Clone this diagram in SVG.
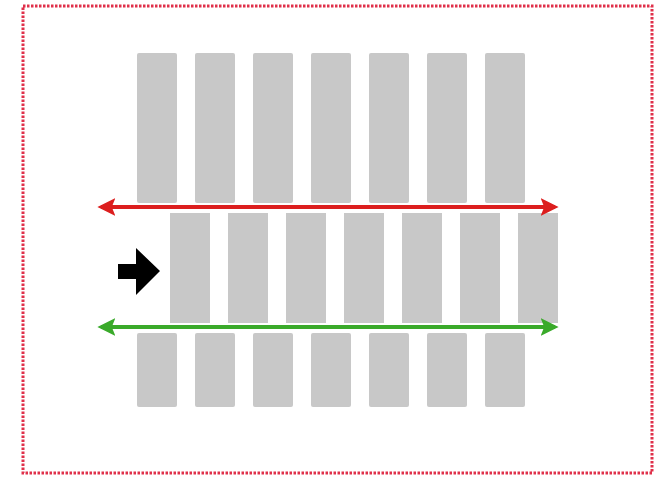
<svg xmlns="http://www.w3.org/2000/svg" width="659" height="480" viewBox="0 0 659 480">
<style>
.bar{fill:#c8c8c8}
.frame{fill:none;stroke:#e0304a;stroke-width:3;stroke-dasharray:2.5 1.5}
.red{stroke:#dc1e1e;stroke-width:4;fill:none}
.green{stroke:#3aaa2a;stroke-width:4;fill:none}
</style>
<defs>
<marker id="mr" viewBox="0 0 10 10" refX="8" refY="5" markerWidth="4.5" markerHeight="4.5" orient="auto-start-reverse" markerUnits="strokeWidth"><path d="M0,0 L10,5 L0,10 L2,5 Z" fill="#dc1e1e"/></marker>
<marker id="mg" viewBox="0 0 10 10" refX="8" refY="5" markerWidth="4.5" markerHeight="4.5" orient="auto-start-reverse" markerUnits="strokeWidth"><path d="M0,0 L10,5 L0,10 L2,5 Z" fill="#3aaa2a"/></marker>
</defs>
<rect width="659" height="480" fill="#fff"/>
<rect id="frame" class="frame" x="23" y="6" width="629" height="467"/>
<g id="top-row">
<rect class="bar" x="137" y="53" width="40" height="150" rx="2"/>
<rect class="bar" x="195" y="53" width="40" height="150" rx="2"/>
<rect class="bar" x="253" y="53" width="40" height="150" rx="2"/>
<rect class="bar" x="311" y="53" width="40" height="150" rx="2"/>
<rect class="bar" x="369" y="53" width="40" height="150" rx="2"/>
<rect class="bar" x="427" y="53" width="40" height="150" rx="2"/>
<rect class="bar" x="485" y="53" width="40" height="150" rx="2"/>
</g>
<g id="middle-row">
<rect class="bar" x="170" y="213" width="40" height="110"/>
<rect class="bar" x="228" y="213" width="40" height="110"/>
<rect class="bar" x="286" y="213" width="40" height="110"/>
<rect class="bar" x="344" y="213" width="40" height="110"/>
<rect class="bar" x="402" y="213" width="40" height="110"/>
<rect class="bar" x="460" y="213" width="40" height="110"/>
<rect class="bar" x="518" y="213" width="40" height="110"/>
</g>
<g id="bottom-row">
<rect class="bar" x="137" y="333" width="40" height="74" rx="2"/>
<rect class="bar" x="195" y="333" width="40" height="74" rx="2"/>
<rect class="bar" x="253" y="333" width="40" height="74" rx="2"/>
<rect class="bar" x="311" y="333" width="40" height="74" rx="2"/>
<rect class="bar" x="369" y="333" width="40" height="74" rx="2"/>
<rect class="bar" x="427" y="333" width="40" height="74" rx="2"/>
<rect class="bar" x="485" y="333" width="40" height="74" rx="2"/>
</g>
<g id="connectors">
<line class="red" x1="101" y1="207" x2="555" y2="207" marker-start="url(#mr)" marker-end="url(#mr)"/>
<line class="green" x1="101" y1="327" x2="555" y2="327" marker-start="url(#mg)" marker-end="url(#mg)"/>
<path id="black-arrow" d="M118,264 L136,264 L136,248 L160,271 L136,295 L136,279 L118,279 Z" fill="#000"/>
</g>
</svg>
